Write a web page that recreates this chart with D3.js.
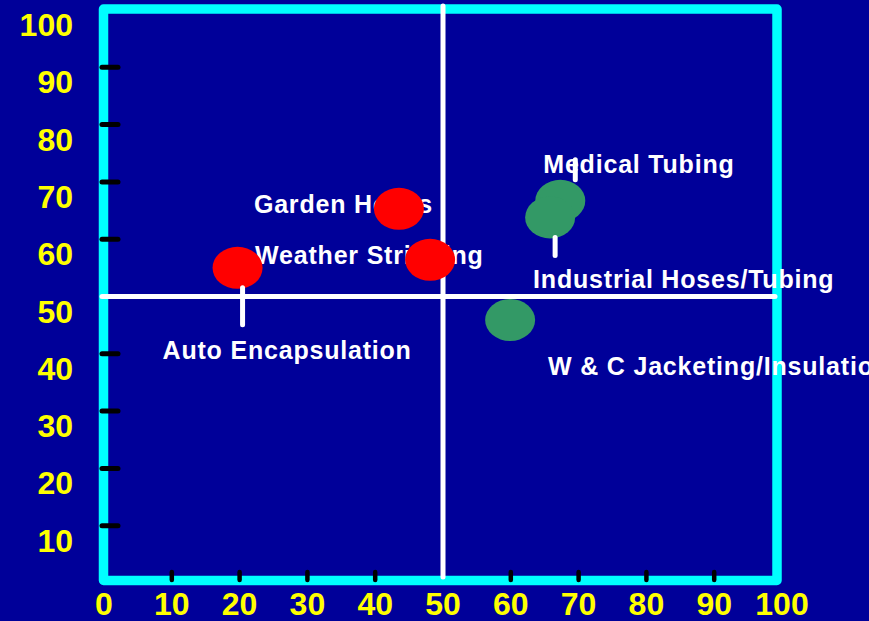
<!DOCTYPE html>
<html>
<head>
<meta charset="utf-8">
<script src="https://cdn.jsdelivr.net/npm/d3@7/dist/d3.min.js"></script>
<style>
  html, body { margin: 0; padding: 0; background: #000099; overflow: hidden; }
  svg { display: block; }
  text { font-family: "Liberation Sans", Arial, sans-serif; font-weight: bold; }
</style>
</head>
<body>
<div id="chart"></div>
<script>
// data
var applications = ["Auto Encapsulation", "Garden Hoses", "Weather Stripping",
                    "Medical Tubing", "Industrial Hoses/Tubing", "W & C Jacketing/Insulation"];
var xValues = [19.7, 43.5, 48.1, 67.3, 65.8, 59.9];
var yValues = [55.0, 65.3, 56.4, 66.7, 63.8, 45.9];
var groups = ["red", "red", "red", "green", "green", "green"];

var tickValues = [10, 20, 30, 40, 60, 70, 80, 90];
var tickLabels = [0, 10, 20, 30, 40, 50, 60, 70, 80, 90, 100];
var divider = 50;

// label placement (pixel offsets from the point)
var labelOffset = [[-75, 91], [-145, 4], [-175, 4], [-17, -28], [-17, 71], [38, 55]];
var leaderOffset = [[5, 20, 57], null, null, [15, -41, -21], [5, 20, 38], null];

var width = 869, height = 621;
var colors = { red: "#ff0000", green: "#339966" };

var svg = d3.select("#chart").append("svg")
    .attr("width", width)
    .attr("height", height);

svg.append("rect")
    .attr("width", width)
    .attr("height", height)
    .attr("fill", "#000099");

var x_scale = d3.scaleLinear().domain([0, 100]).range([104, 782]);
var y_scale = d3.scaleLinear().domain([0, 100]).range([583, 10]);

// frame
svg.append("rect")
    .attr("x", 103.5)
    .attr("y", 9)
    .attr("width", 777 - 103.5)
    .attr("height", 580.5 - 9)
    .attr("fill", "none")
    .attr("stroke", "#00ffff")
    .attr("stroke-width", 9.5)
    .attr("stroke-linejoin", "round");

// tick marks
svg.selectAll(".xtick")
    .data(tickValues)
    .enter()
    .append("line")
    .attr("x1", function(d){ return x_scale(d); })
    .attr("x2", function(d){ return x_scale(d); })
    .attr("y1", 572)
    .attr("y2", 580)
    .attr("stroke", "#000")
    .attr("stroke-width", 4.5)
    .attr("stroke-linecap", "round");

svg.selectAll(".ytick")
    .data(tickValues)
    .enter()
    .append("line")
    .attr("y1", function(d){ return y_scale(d); })
    .attr("y2", function(d){ return y_scale(d); })
    .attr("x1", 102)
    .attr("x2", 118)
    .attr("stroke", "#000")
    .attr("stroke-width", 5)
    .attr("stroke-linecap", "round");

// quadrant lines
svg.append("line")
    .attr("x1", x_scale(divider))
    .attr("x2", x_scale(divider))
    .attr("y1", 6)
    .attr("y2", 577)
    .attr("stroke", "#fff")
    .attr("stroke-width", 5)
    .attr("stroke-linecap", "round");

svg.append("line")
    .attr("x1", 102)
    .attr("x2", 775)
    .attr("y1", y_scale(divider))
    .attr("y2", y_scale(divider))
    .attr("stroke", "#fff")
    .attr("stroke-width", 5)
    .attr("stroke-linecap", "round");

// axis labels
svg.selectAll(".xlabel")
    .data(tickLabels)
    .enter()
    .append("text")
    .attr("x", function(d){ return x_scale(d); })
    .attr("y", 615)
    .attr("text-anchor", "middle")
    .attr("font-size", 32)
    .attr("fill", "#ffff00")
    .text(function(d){ return d; });

svg.selectAll(".ylabel")
    .data(tickLabels.slice(1))
    .enter()
    .append("text")
    .attr("x", 73)
    .attr("y", function(d){ return y_scale(d) + 26; })
    .attr("text-anchor", "end")
    .attr("font-size", 32)
    .attr("fill", "#ffff00")
    .text(function(d){ return d; });

var points = applications.map(function(name, i){
    return { name: name, x: xValues[i], y: yValues[i], group: groups[i], i: i };
});

// application labels
svg.selectAll(".label")
    .data(points)
    .enter()
    .append("text")
    .attr("x", function(d){ return x_scale(d.x) + labelOffset[d.i][0]; })
    .attr("y", function(d){ return y_scale(d.y) + labelOffset[d.i][1]; })
    .attr("font-size", 25)
    .attr("letter-spacing", 0.8)
    .attr("fill", "#fff")
    .text(function(d){ return d.name; });

// points
svg.selectAll(".point")
    .data(points)
    .enter()
    .append("ellipse")
    .attr("cx", function(d){ return x_scale(d.x); })
    .attr("cy", function(d){ return y_scale(d.y); })
    .attr("rx", 25)
    .attr("ry", 21)
    .attr("fill", function(d){ return colors[d.group]; });

// leader lines
svg.selectAll(".leader")
    .data(points.filter(function(d){ return leaderOffset[d.i]; }))
    .enter()
    .append("line")
    .attr("x1", function(d){ return x_scale(d.x) + leaderOffset[d.i][0]; })
    .attr("x2", function(d){ return x_scale(d.x) + leaderOffset[d.i][0]; })
    .attr("y1", function(d){ return y_scale(d.y) + leaderOffset[d.i][1]; })
    .attr("y2", function(d){ return y_scale(d.y) + leaderOffset[d.i][2]; })
    .attr("stroke", "#fff")
    .attr("stroke-width", 5)
    .attr("stroke-linecap", "round");
</script>
</body>
</html>
